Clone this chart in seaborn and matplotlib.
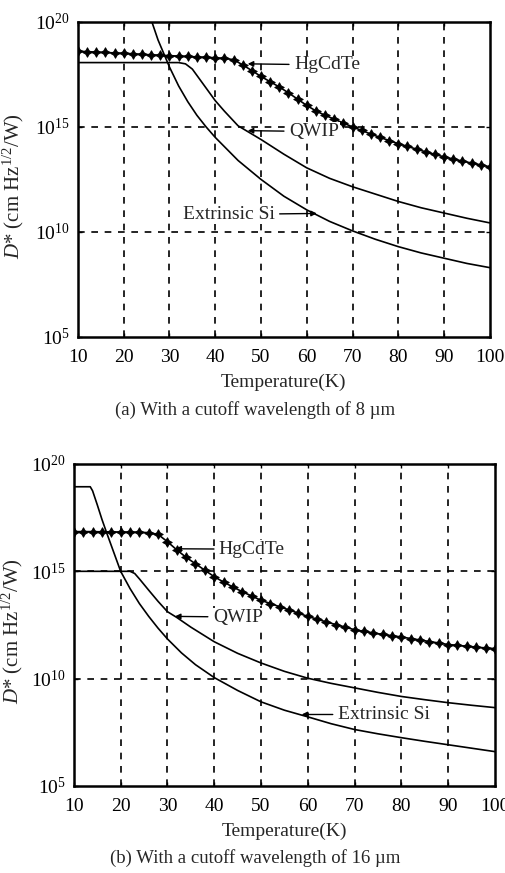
import numpy as np
import pandas as pd
import matplotlib
matplotlib.use("Agg")
import matplotlib.pyplot as plt
import seaborn as sns

# temperatures (K) and log10(D*) values
T_hg = [10, 12, 14, 16, 18, 20, 22, 24, 26, 28, 30, 32, 34, 36, 38, 40, 42, 44, 46, 48,
        50, 52, 54, 56, 58, 60, 62, 64, 66, 68, 70, 72, 74, 76, 78, 80, 82, 84, 86, 88,
        90, 92, 94, 96, 98, 100]

# (a) 8 um cutoff
hg8 = [18.60, 18.58, 18.56, 18.54, 18.52, 18.50, 18.48, 18.45, 18.43, 18.41, 18.39, 18.37,
       18.35, 18.33, 18.31, 18.29, 18.26, 18.20, 17.95, 17.68, 17.40, 17.15, 16.90, 16.62,
       16.32, 16.02, 15.76, 15.55, 15.37, 15.18, 15.00, 14.83, 14.66, 14.50, 14.35, 14.20,
       14.07, 13.94, 13.81, 13.69, 13.57, 13.47, 13.37, 13.28, 13.19, 13.10]
T_q8 = [10, 20, 30, 32, 33.5, 35, 36, 38, 40, 42, 45, 50, 55, 60, 65, 70, 75, 80, 85, 90, 95, 100]
q8 = [18.06, 18.06, 18.06, 18.06, 18.0, 17.75, 17.45, 16.85, 16.25, 15.75, 15.05, 14.4,
      13.7, 13.05, 12.55, 12.15, 11.8, 11.45, 11.15, 10.9, 10.65, 10.43]
T_e8 = [25, 26, 27.5, 30, 32, 34, 36, 38, 40, 45, 50, 55, 60, 65, 70, 75, 80, 85, 90, 95, 100]
e8 = [20.7, 20.1, 19.14, 17.85, 16.95, 16.2, 15.55, 15.0, 14.5, 13.4, 12.5, 11.7, 11.05,
      10.5, 10.05, 9.65, 9.3, 9.0, 8.75, 8.5, 8.3]

# (b) 16 um cutoff
hg16 = [16.85, 16.85, 16.85, 16.84, 16.84, 16.83, 16.83, 16.82, 16.80, 16.72, 16.38, 16.00,
        15.65, 15.35, 15.05, 14.75, 14.50, 14.27, 14.05, 13.85, 13.65, 13.50, 13.35, 13.20,
        13.05, 12.90, 12.77, 12.64, 12.52, 12.40, 12.28, 12.20, 12.13, 12.06, 12.00, 11.94,
        11.87, 11.80, 11.73, 11.66, 11.59, 11.55, 11.51, 11.47, 11.43, 11.40]
T_q16 = [10, 15, 20, 22, 23, 24, 26, 28, 30, 32, 35, 40, 45, 50, 55, 60, 65, 70, 75, 80,
         85, 90, 95, 100]
q16 = [15.0, 15.0, 15.0, 15.0, 14.9, 14.65, 14.12, 13.6, 13.12, 12.85, 12.4, 11.72, 11.18,
       10.73, 10.34, 10.02, 9.78, 9.57, 9.36, 9.17, 9.02, 8.88, 8.76, 8.65]
T_e16 = [10, 13.5, 14, 15, 16, 17, 18, 19, 20, 22, 24, 26, 28, 30, 33, 36, 40, 45, 50, 55,
         60, 65, 70, 75, 80, 85, 90, 95, 100]
e16 = [18.94, 18.94, 18.75, 18.1, 17.42, 16.8, 16.2, 15.6, 15.0, 14.2, 13.5, 12.9, 12.35,
       11.85, 11.2, 10.65, 10.05, 9.45, 8.92, 8.53, 8.22, 7.9, 7.63, 7.43, 7.25, 7.08, 6.92,
       6.76, 6.6]

x_ticks = [10, 20, 30, 40, 50, 60, 70, 80, 90, 100]
y_ticks = [5, 10, 15, 20]

sns.set_style("ticks")
plt.rcParams['font.family'] = ['Liberation Serif', 'DejaVu Serif']
plt.rcParams['mathtext.fontset'] = 'custom'
plt.rcParams['mathtext.rm'] = 'Liberation Serif'
plt.rcParams['mathtext.it'] = 'Liberation Serif:italic'

fig = plt.figure(figsize=(5.06, 8.73), dpi=100)
ax1 = fig.add_axes([0.154, 0.614, 0.814, 0.361])
ax2 = fig.add_axes([0.146, 0.0997, 0.832, 0.3688])


def draw(ax, hg, tq, q, te, e):
    df_hg = pd.DataFrame({'T': T_hg, 'D': 10 ** np.array(hg)})
    df_q = pd.DataFrame({'T': tq, 'D': 10 ** np.array(q)})
    df_e = pd.DataFrame({'T': te, 'D': 10 ** np.array(e)})
    sns.lineplot(data=df_e, x='T', y='D', ax=ax, color='k', lw=1.2, estimator=None)
    sns.lineplot(data=df_q, x='T', y='D', ax=ax, color='k', lw=1.2, estimator=None)
    sns.lineplot(data=df_hg, x='T', y='D', ax=ax, color='k', lw=1.2, estimator=None,
                 marker=(4, 1, 0), markersize=7, markeredgewidth=0.6,
                 markeredgecolor='k', markerfacecolor='k')
    ax.set_yscale('log')
    ax.set_xlim(10, 100)
    ax.set_ylim(1e5, 1e20)
    ax.set_xticks(x_ticks)
    ax.set_xticklabels([str(t) for t in x_ticks])
    ax.set_yticks([10.0 ** v for v in y_ticks])
    ax.set_yticklabels([r'$10^{%d}$' % v for v in y_ticks])
    ax.minorticks_off()
    ax.tick_params(direction='in', length=3, width=1, top=True, right=True,
                   labelsize=14, colors='k')
    ax.tick_params(axis='x', pad=9)
    ax.tick_params(axis='y', pad=6)
    for v in x_ticks[1:-1]:
        ax.axvline(v, color='k', lw=1.2, ls=(0, (4, 4)), zorder=0.5)
    for v in [10, 15]:
        ax.axhline(10.0 ** v, color='k', lw=1.2, ls=(0, (4, 4)), zorder=0.5)
    for s in ax.spines.values():
        s.set_linewidth(1.8)
        s.set_color('k')
    ax.set_xlabel('Temperature(K)', fontsize=14, labelpad=5)
    ax.set_ylabel(r'$D$* (cm Hz$^{1/2}$/W)', fontsize=15)


arrow = dict(arrowstyle='-|>', color='k', lw=1.0, mutation_scale=8, shrinkA=3, shrinkB=0)
box = dict(facecolor='white', edgecolor='none', pad=0.5)

draw(ax1, hg8, T_q8, q8, T_e8, e8)
ax1.yaxis.set_label_coords(-0.125, 0.48)
ax1.annotate('HgCdTe', xy=(47.1, 10 ** 18.0), xytext=(57.2, 10 ** 17.95), fontsize=14,
             ha='left', va='center', arrowprops=arrow, bbox=box)
ax1.annotate('QWIP', xy=(47.1, 10 ** 14.82), xytext=(56.1, 10 ** 14.78), fontsize=14,
             ha='left', va='center', arrowprops=arrow, bbox=box)
ax1.annotate('Extrinsic Si', xy=(62.2, 10 ** 10.88), xytext=(53.0, 10 ** 10.83), fontsize=14,
             ha='right', va='center', arrowprops=arrow, bbox=box)

draw(ax2, hg16, T_q16, q16, T_e16, e16)
ax2.yaxis.set_label_coords(-0.115, 0.48)
ax2.annotate('HgCdTe', xy=(31.7, 10 ** 16.05), xytext=(41.0, 10 ** 16.03), fontsize=14,
             ha='left', va='center', arrowprops=arrow, bbox=box)
ax2.annotate('QWIP', xy=(31.6, 10 ** 12.9), xytext=(39.7, 10 ** 12.87), fontsize=14,
             ha='left', va='center', arrowprops=arrow, bbox=box)
ax2.annotate('Extrinsic Si', xy=(58.7, 10 ** 8.33), xytext=(66.4, 10 ** 8.33), fontsize=14,
             ha='left', va='center', arrowprops=arrow, bbox=box)

fig.text(0.504, 1 - 410 / 873, '(a) With a cutoff wavelength of 8 \u00b5m', fontsize=13.5,
         ha='center', va='center')
fig.text(0.504, 1 - 858 / 873, '(b) With a cutoff wavelength of 16 \u00b5m', fontsize=13.5,
         ha='center', va='center')

fig.savefig('out.png', dpi=100)
